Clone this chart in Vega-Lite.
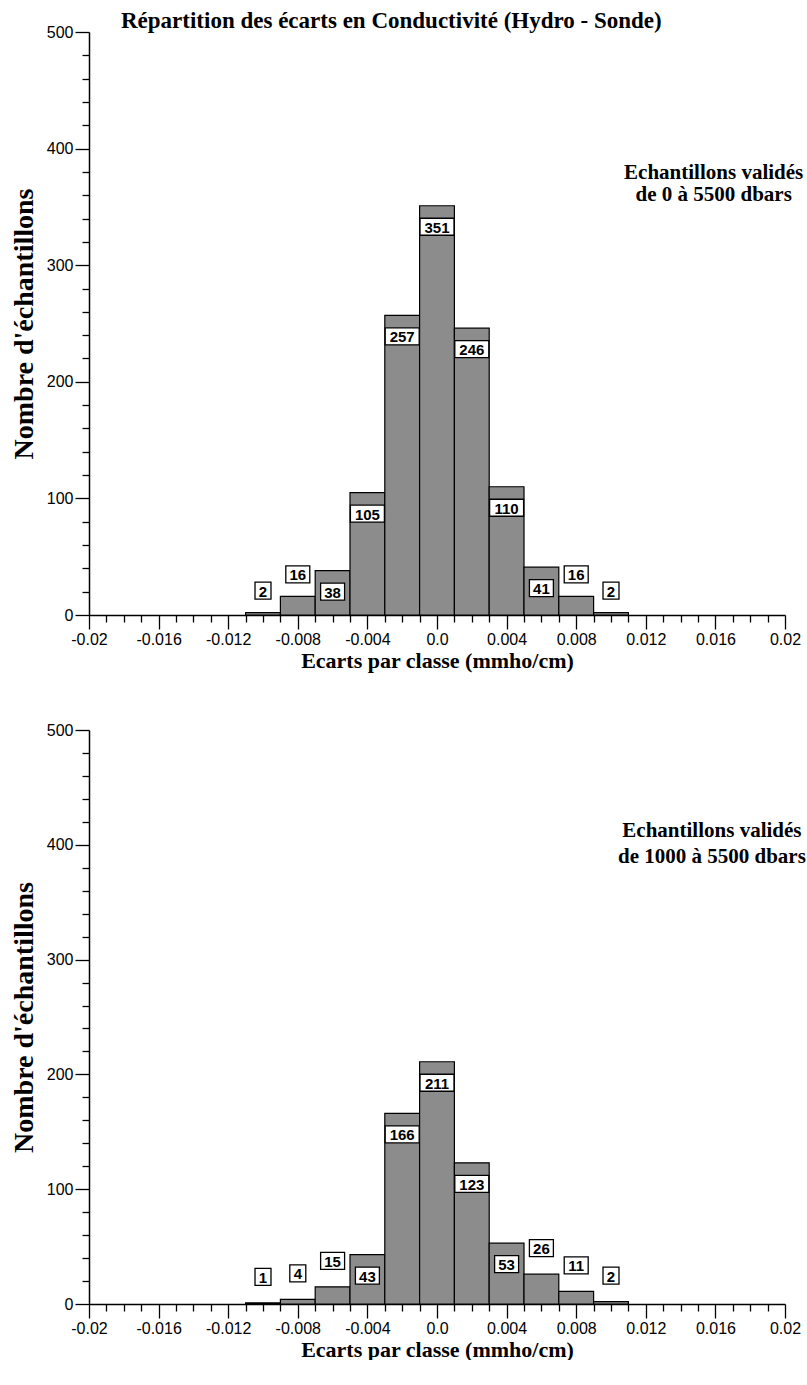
{
  "$schema": "https://vega.github.io/schema/vega-lite/v6.json",
  "background": "white",
  "padding": {"left": 10, "top": 10, "right": 0, "bottom": 0},
  "spacing": 51,
  "datasets": {
    "all": [
      {"classe": -0.010, "lo": -0.011, "hi": -0.009, "n": 2},
      {"classe": -0.008, "lo": -0.009, "hi": -0.007, "n": 16},
      {"classe": -0.006, "lo": -0.007, "hi": -0.005, "n": 38},
      {"classe": -0.004, "lo": -0.005, "hi": -0.003, "n": 105},
      {"classe": -0.002, "lo": -0.003, "hi": -0.001, "n": 257},
      {"classe": 0.000, "lo": -0.001, "hi": 0.001, "n": 351},
      {"classe": 0.002, "lo": 0.001, "hi": 0.003, "n": 246},
      {"classe": 0.004, "lo": 0.003, "hi": 0.005, "n": 110},
      {"classe": 0.006, "lo": 0.005, "hi": 0.007, "n": 41},
      {"classe": 0.008, "lo": 0.007, "hi": 0.009, "n": 16},
      {"classe": 0.010, "lo": 0.009, "hi": 0.011, "n": 2}
    ],
    "deep": [
      {"classe": -0.010, "lo": -0.011, "hi": -0.009, "n": 1},
      {"classe": -0.008, "lo": -0.009, "hi": -0.007, "n": 4},
      {"classe": -0.006, "lo": -0.007, "hi": -0.005, "n": 15},
      {"classe": -0.004, "lo": -0.005, "hi": -0.003, "n": 43},
      {"classe": -0.002, "lo": -0.003, "hi": -0.001, "n": 166},
      {"classe": 0.000, "lo": -0.001, "hi": 0.001, "n": 211},
      {"classe": 0.002, "lo": 0.001, "hi": 0.003, "n": 123},
      {"classe": 0.004, "lo": 0.003, "hi": 0.005, "n": 53},
      {"classe": 0.006, "lo": 0.005, "hi": 0.007, "n": 26},
      {"classe": 0.008, "lo": 0.007, "hi": 0.009, "n": 11},
      {"classe": 0.010, "lo": 0.009, "hi": 0.011, "n": 2}
    ]
  },
  "config": {
    "view": {"stroke": null},
    "axis": {
      "grid": false,
      "domainColor": "black",
      "domainWidth": 1.5,
      "tickColor": "black",
      "tickWidth": 1.3,
      "labelFont": "Liberation Sans",
      "labelFontSize": 16,
      "labelColor": "black",
      "labelOverlap": false,
      "labelBound": false,
      "labelFlush": false,
      "titleFont": "Liberation Serif",
      "titleFontWeight": "bold",
      "titleColor": "black"
    }
  },
  "vconcat": [
    {
      "width": 696,
      "height": 583,
      "title": {
        "text": "Répartition des écarts en Conductivité (Hydro - Sonde)",
        "anchor": "start",
        "frame": "group",
        "dx": 32,
        "offset": -9,
        "font": "Liberation Serif",
        "fontWeight": "bold",
        "fontSize": 23,
        "color": "black"
      },
      "data": {"name": "all"},
      "resolve": {"axis": {"x": "independent", "y": "independent"}},
      "layer": [
        {
          "mark": {"type": "rect", "opacity": 0},
          "encoding": {
            "x": {
              "field": "lo", "type": "quantitative",
              "scale": {"domain": [-0.02, 0.02], "nice": false, "zero": false},
              "axis": {"orient": "bottom", "values": [-0.019, -0.018, -0.017, -0.015, -0.014, -0.013, -0.011, -0.01, -0.009, -0.007, -0.006, -0.005, -0.003, -0.002, -0.001, 0.001, 0.002, 0.003, 0.005, 0.006, 0.007, 0.009, 0.01, 0.011, 0.013, 0.014, 0.015, 0.017, 0.018, 0.019], "tickSize": 7, "labels": false, "domain": false, "title": null}
            },
            "x2": {"field": "hi"},
            "y": {
              "field": "n", "type": "quantitative",
              "scale": {"domain": [0, 500], "nice": false},
              "axis": {"orient": "left", "values": [20, 40, 60, 80, 120, 140, 160, 180, 220, 240, 260, 280, 320, 340, 360, 380, 420, 440, 460, 480], "tickSize": 7, "labels": false, "domain": false, "title": null}
            },
            "y2": {"datum": 0}
          }
        },
        {
          "mark": {"type": "rect", "fill": "#8c8c8c", "stroke": "black", "strokeWidth": 1.2},
          "encoding": {
            "x": {
              "field": "lo", "type": "quantitative",
              "axis": {
                "orient": "bottom",
                "title": "Ecarts par classe (mmho/cm)",
                "titleFontSize": 22,
                "values": [-0.02, -0.016, -0.012, -0.008, -0.004, 0, 0.004, 0.008, 0.012, 0.016, 0.02],
                "tickSize": 14,
                "labelExpr": "datum.value === 0 ? '0.0' : toString(datum.value)",
                "labelPadding": 2,
                "titlePadding": 3
              }
            },
            "x2": {"field": "hi"},
            "y": {
              "field": "n", "type": "quantitative",
              "axis": {
                "orient": "left",
                "title": "Nombre d'échantillons",
                "titleFontSize": 28,
                "values": [0, 100, 200, 300, 400, 500],
                "tickSize": 14,
                "labelPadding": 2,
                "titlePadding": 8
              }
            },
            "y2": {"datum": 0}
          }
        },
        {
          "transform": [{"filter": "datum.n >= 30"}],
          "mark": {"type": "point", "filled": true, "fill": "white", "stroke": "black", "strokeWidth": 1.3, "opacity": 1, "size": 289, "yOffset": 21},
          "encoding": {
            "x": {"field": "classe", "type": "quantitative", "axis": null},
            "y": {"field": "n", "type": "quantitative", "axis": null},
            "shape": {"condition": [{"test": "datum.n >= 100", "value": "M-2,-1H2V1H-2Z"}, {"test": "datum.n >= 10", "value": "M-1.41,-1H1.41V1H-1.41Z"}], "value": "M-0.94,-1H0.94V1H-0.94Z"}
          }
        },
        {
          "transform": [{"filter": "datum.n < 30"}],
          "mark": {"type": "point", "filled": true, "fill": "white", "stroke": "black", "strokeWidth": 1.3, "opacity": 1, "size": 289, "yOffset": -22},
          "encoding": {
            "x": {"field": "classe", "type": "quantitative", "axis": null},
            "y": {"field": "n", "type": "quantitative", "axis": null},
            "shape": {"condition": [{"test": "datum.n >= 100", "value": "M-2,-1H2V1H-2Z"}, {"test": "datum.n >= 10", "value": "M-1.41,-1H1.41V1H-1.41Z"}], "value": "M-0.94,-1H0.94V1H-0.94Z"}
          }
        },
        {
          "transform": [{"filter": "datum.n >= 30"}],
          "mark": {"type": "text", "font": "Liberation Sans", "fontWeight": "bold", "fontSize": 15, "baseline": "middle", "align": "center", "dy": 22, "color": "black"},
          "encoding": {
            "x": {"field": "classe", "type": "quantitative", "axis": null},
            "y": {"field": "n", "type": "quantitative", "axis": null},
            "text": {"field": "n", "type": "quantitative"}
          }
        },
        {
          "transform": [{"filter": "datum.n < 30"}],
          "mark": {"type": "text", "font": "Liberation Sans", "fontWeight": "bold", "fontSize": 15, "baseline": "middle", "align": "center", "dy": -21, "color": "black"},
          "encoding": {
            "x": {"field": "classe", "type": "quantitative", "axis": null},
            "y": {"field": "n", "type": "quantitative", "axis": null},
            "text": {"field": "n", "type": "quantitative"}
          }
        },
        {
          "data": {"values": [{"note": "Echantillons validés"}]},
          "mark": {"type": "text", "font": "Liberation Serif", "fontWeight": "bold", "fontSize": 21, "lineHeight": 22, "baseline": "middle", "align": "center", "color": "black"},
          "encoding": {
            "x": {"datum": 0.0159, "type": "quantitative", "axis": null},
            "y": {"datum": 379, "type": "quantitative", "axis": null},
            "text": {"value": ["Echantillons validés", "de 0 à 5500 dbars"]}
          }
        }
      ]
    },
    {
      "width": 696,
      "height": 574,
      "data": {"name": "deep"},
      "resolve": {"axis": {"x": "independent", "y": "independent"}},
      "layer": [
        {
          "mark": {"type": "rect", "opacity": 0},
          "encoding": {
            "x": {
              "field": "lo", "type": "quantitative",
              "scale": {"domain": [-0.02, 0.02], "nice": false, "zero": false},
              "axis": {"orient": "bottom", "values": [-0.019, -0.018, -0.017, -0.015, -0.014, -0.013, -0.011, -0.01, -0.009, -0.007, -0.006, -0.005, -0.003, -0.002, -0.001, 0.001, 0.002, 0.003, 0.005, 0.006, 0.007, 0.009, 0.01, 0.011, 0.013, 0.014, 0.015, 0.017, 0.018, 0.019], "tickSize": 7, "labels": false, "domain": false, "title": null}
            },
            "x2": {"field": "hi"},
            "y": {
              "field": "n", "type": "quantitative",
              "scale": {"domain": [0, 500], "nice": false},
              "axis": {"orient": "left", "values": [20, 40, 60, 80, 120, 140, 160, 180, 220, 240, 260, 280, 320, 340, 360, 380, 420, 440, 460, 480], "tickSize": 7, "labels": false, "domain": false, "title": null}
            },
            "y2": {"datum": 0}
          }
        },
        {
          "mark": {"type": "rect", "fill": "#8c8c8c", "stroke": "black", "strokeWidth": 1.2},
          "encoding": {
            "x": {
              "field": "lo", "type": "quantitative",
              "axis": {
                "orient": "bottom",
                "title": "Ecarts par classe (mmho/cm)",
                "titleFontSize": 22,
                "values": [-0.02, -0.016, -0.012, -0.008, -0.004, 0, 0.004, 0.008, 0.012, 0.016, 0.02],
                "tickSize": 14,
                "labelExpr": "datum.value === 0 ? '0.0' : toString(datum.value)",
                "labelPadding": 2,
                "titlePadding": 3
              }
            },
            "x2": {"field": "hi"},
            "y": {
              "field": "n", "type": "quantitative",
              "axis": {
                "orient": "left",
                "title": "Nombre d'échantillons",
                "titleFontSize": 28,
                "values": [0, 100, 200, 300, 400, 500],
                "tickSize": 14,
                "labelPadding": 2,
                "titlePadding": 8
              }
            },
            "y2": {"datum": 0}
          }
        },
        {
          "transform": [{"filter": "datum.n >= 30"}],
          "mark": {"type": "point", "filled": true, "fill": "white", "stroke": "black", "strokeWidth": 1.3, "opacity": 1, "size": 289, "yOffset": 21},
          "encoding": {
            "x": {"field": "classe", "type": "quantitative", "axis": null},
            "y": {"field": "n", "type": "quantitative", "axis": null},
            "shape": {"condition": [{"test": "datum.n >= 100", "value": "M-2,-1H2V1H-2Z"}, {"test": "datum.n >= 10", "value": "M-1.41,-1H1.41V1H-1.41Z"}], "value": "M-0.94,-1H0.94V1H-0.94Z"}
          }
        },
        {
          "transform": [{"filter": "datum.n < 30"}],
          "mark": {"type": "point", "filled": true, "fill": "white", "stroke": "black", "strokeWidth": 1.3, "opacity": 1, "size": 289, "yOffset": -26},
          "encoding": {
            "x": {"field": "classe", "type": "quantitative", "axis": null},
            "y": {"field": "n", "type": "quantitative", "axis": null},
            "shape": {"condition": [{"test": "datum.n >= 100", "value": "M-2,-1H2V1H-2Z"}, {"test": "datum.n >= 10", "value": "M-1.41,-1H1.41V1H-1.41Z"}], "value": "M-0.94,-1H0.94V1H-0.94Z"}
          }
        },
        {
          "transform": [{"filter": "datum.n >= 30"}],
          "mark": {"type": "text", "font": "Liberation Sans", "fontWeight": "bold", "fontSize": 15, "baseline": "middle", "align": "center", "dy": 22, "color": "black"},
          "encoding": {
            "x": {"field": "classe", "type": "quantitative", "axis": null},
            "y": {"field": "n", "type": "quantitative", "axis": null},
            "text": {"field": "n", "type": "quantitative"}
          }
        },
        {
          "transform": [{"filter": "datum.n < 30"}],
          "mark": {"type": "text", "font": "Liberation Sans", "fontWeight": "bold", "fontSize": 15, "baseline": "middle", "align": "center", "dy": -25, "color": "black"},
          "encoding": {
            "x": {"field": "classe", "type": "quantitative", "axis": null},
            "y": {"field": "n", "type": "quantitative", "axis": null},
            "text": {"field": "n", "type": "quantitative"}
          }
        },
        {
          "data": {"values": [{"note": "Echantillons validés"}]},
          "mark": {"type": "text", "font": "Liberation Serif", "fontWeight": "bold", "fontSize": 21, "lineHeight": 26, "baseline": "middle", "align": "center", "color": "black"},
          "encoding": {
            "x": {"datum": 0.0158, "type": "quantitative", "axis": null},
            "y": {"datum": 412, "type": "quantitative", "axis": null},
            "text": {"value": ["Echantillons validés", "de 1000 à 5500 dbars"]}
          }
        }
      ]
    }
  ]
}
